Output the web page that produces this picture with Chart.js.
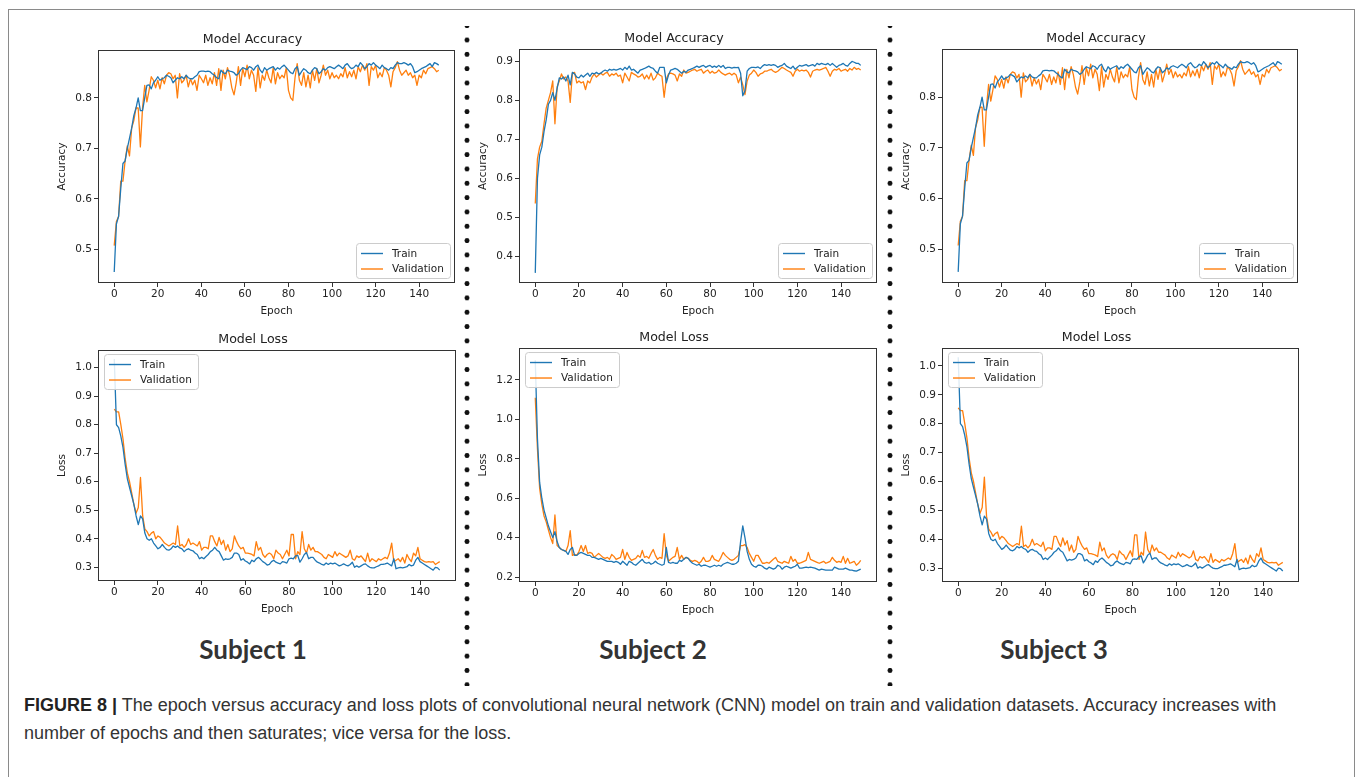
<!DOCTYPE html>
<html lang="en">
<head>
<meta charset="utf-8">
<title>FIGURE 8 - CNN accuracy and loss</title>
<script src="https://cdn.jsdelivr.net/npm/chart.js@4.4.1/dist/chart.umd.min.js"></script>
<style>
  html, body { margin: 0; padding: 0; background: #fff; }
  body { width: 1357px; height: 777px; position: relative; overflow: hidden; font-family: "Liberation Sans", Arial, sans-serif; }
  .frame { position: absolute; left: 8px; top: 9px; width: 1347px; height: 820px; border: 1px solid #8a8a8a; box-sizing: border-box; }
  .plot { position: absolute; }
  .sep { position: absolute; top: 26px; width: 8px; height: 660px;
         background-image: radial-gradient(circle, #111 2.2px, rgba(0,0,0,0) 2.8px);
         background-size: 8px 14.34px; background-position: 0 -7.5px; }
  .subject { position: absolute; top: 633px; line-height: 30px; font: 700 26px Lato, sans-serif; color: #333;
             transform: translateX(-50%); white-space: nowrap; }
  .caption { position: absolute; left: 24px; top: 691px; font-size: 18px; line-height: 28px; color: #333; white-space: nowrap; }
  .caption b { color: #222; }
</style>
</head>
<body>
<div class="frame"></div>

<div class="plot" id="wrap-s1-acc"><canvas id="s1-acc"></canvas></div>
<div class="plot" id="wrap-s1-loss"><canvas id="s1-loss"></canvas></div>
<div class="plot" id="wrap-s2-acc"><canvas id="s2-acc"></canvas></div>
<div class="plot" id="wrap-s2-loss"><canvas id="s2-loss"></canvas></div>
<div class="plot" id="wrap-s3-acc"><canvas id="s3-acc"></canvas></div>
<div class="plot" id="wrap-s3-loss"><canvas id="s3-loss"></canvas></div>

<div class="sep" style="left:463px"></div>
<div class="sep" style="left:886px"></div>

<div class="subject" style="left:253px">Subject 1</div>
<div class="subject" style="left:653px">Subject 2</div>
<div class="subject" style="left:1054px">Subject 3</div>

<div class="caption"><b>FIGURE 8 |</b> The epoch versus accuracy and loss plots of convolutional neural network (CNN) model on train and validation datasets. Accuracy increases with<br>number of epochs and then saturates; vice versa for the loss.</div>

<script>
// 数据：epoch 序号与刻度
const epochs = Array.from({ length: 150 }, (_, i) => i);
const xTicks = [0, 20, 40, 60, 80, 100, 120, 140];

const s1AccTicks = [0.5, 0.6, 0.7, 0.8];
const s1LossTicks = [0.3, 0.4, 0.5, 0.6, 0.7, 0.8, 0.9, 1.0];
const s2AccTicks = [0.4, 0.5, 0.6, 0.7, 0.8, 0.9];
const s2LossTicks = [0.2, 0.4, 0.6, 0.8, 1.0, 1.2];

// Subject 1 - accuracy
const s1AccTrain = [
  0.455, 0.55, 0.565, 0.62, 0.67, 0.675, 0.70, 0.72, 0.74, 0.765,
  0.78, 0.80, 0.775, 0.775, 0.80, 0.825, 0.826, 0.818, 0.83, 0.835,
  0.842, 0.835, 0.838, 0.84, 0.845, 0.843, 0.84, 0.83, 0.835, 0.84,
  0.838, 0.842, 0.838, 0.845, 0.84, 0.838, 0.838, 0.842, 0.845, 0.852,
  0.853, 0.853, 0.852, 0.853, 0.852, 0.848, 0.845, 0.84, 0.838, 0.855,
  0.85, 0.848, 0.855, 0.853, 0.852, 0.85, 0.845, 0.848, 0.855, 0.86,
  0.858, 0.856, 0.862, 0.86, 0.855, 0.862, 0.865, 0.855, 0.85, 0.86,
  0.855, 0.858, 0.86, 0.862, 0.855, 0.86, 0.857, 0.862, 0.865, 0.86,
  0.855, 0.85, 0.848, 0.858, 0.862, 0.845, 0.852, 0.858, 0.855, 0.85,
  0.848, 0.855, 0.86, 0.858, 0.848, 0.852, 0.858, 0.855, 0.86, 0.862,
  0.86, 0.858, 0.862, 0.865, 0.862, 0.858, 0.865, 0.868, 0.862, 0.858,
  0.86, 0.865, 0.862, 0.87, 0.865, 0.858, 0.862, 0.868, 0.865, 0.87,
  0.865, 0.862, 0.858, 0.865, 0.86, 0.858, 0.855, 0.86, 0.858, 0.865,
  0.87, 0.868, 0.868, 0.87, 0.868, 0.865, 0.868, 0.862, 0.85, 0.852,
  0.855, 0.858, 0.86, 0.862, 0.865, 0.868, 0.862, 0.87, 0.868, 0.865
];
const s1AccVal = [
  0.507, 0.555, 0.565, 0.635, 0.635, 0.675, 0.705, 0.685, 0.74, 0.755,
  0.78, 0.78, 0.703, 0.78, 0.825, 0.792, 0.815, 0.842, 0.835, 0.82,
  0.835, 0.818, 0.84, 0.828, 0.845, 0.85, 0.848, 0.838, 0.845, 0.80,
  0.848, 0.83, 0.835, 0.845, 0.822, 0.838, 0.826, 0.835, 0.815, 0.845,
  0.838, 0.83, 0.845, 0.825, 0.84, 0.828, 0.85, 0.825, 0.858, 0.815,
  0.855, 0.838, 0.86, 0.845, 0.82, 0.806, 0.83, 0.862, 0.825, 0.858,
  0.842, 0.865, 0.838, 0.855, 0.845, 0.813, 0.86, 0.82, 0.845, 0.835,
  0.855, 0.84, 0.83, 0.86, 0.828, 0.85, 0.838, 0.845, 0.84, 0.86,
  0.815, 0.80, 0.795, 0.84, 0.868, 0.835, 0.825, 0.85, 0.822, 0.845,
  0.82, 0.855, 0.835, 0.858, 0.83, 0.845, 0.865, 0.845, 0.855, 0.838,
  0.85, 0.84, 0.845, 0.838, 0.848, 0.842, 0.86, 0.84, 0.852, 0.842,
  0.855, 0.838, 0.862, 0.852, 0.865, 0.855, 0.868, 0.825, 0.862, 0.855,
  0.865, 0.84, 0.85, 0.842, 0.86, 0.855, 0.845, 0.822, 0.852, 0.86,
  0.872, 0.855, 0.845, 0.85, 0.855, 0.845, 0.85, 0.84, 0.845, 0.825,
  0.845, 0.84, 0.855, 0.848, 0.858, 0.86, 0.862, 0.858, 0.852, 0.855
];

// Subject 1 - loss
const s1LossTrain = [
  1.03, 0.80, 0.79, 0.76, 0.72, 0.66, 0.61, 0.58, 0.55, 0.52,
  0.48, 0.45, 0.48, 0.47, 0.42, 0.40, 0.395, 0.40, 0.385, 0.375,
  0.365, 0.37, 0.38, 0.37, 0.362, 0.36, 0.365, 0.375, 0.37, 0.375,
  0.368, 0.365, 0.355, 0.362, 0.365, 0.36, 0.358, 0.35, 0.345, 0.33,
  0.335, 0.33, 0.338, 0.345, 0.355, 0.36, 0.37, 0.36, 0.355, 0.34,
  0.325, 0.33, 0.328, 0.33, 0.335, 0.35, 0.35, 0.345, 0.325, 0.33,
  0.322, 0.318, 0.312, 0.325, 0.32, 0.33, 0.335, 0.328, 0.32, 0.315,
  0.308, 0.31, 0.32, 0.325, 0.318, 0.315, 0.312, 0.32, 0.318, 0.315,
  0.33, 0.332, 0.33, 0.34, 0.342, 0.318, 0.33, 0.345, 0.352, 0.33,
  0.335, 0.335, 0.325, 0.318, 0.315, 0.31, 0.308, 0.315, 0.31, 0.315,
  0.312, 0.315, 0.31, 0.305, 0.308, 0.312, 0.308, 0.305, 0.31, 0.318,
  0.30, 0.305, 0.30, 0.305, 0.31, 0.312, 0.305, 0.30, 0.298, 0.298,
  0.302, 0.305, 0.31, 0.31, 0.312, 0.315, 0.31, 0.305, 0.33, 0.295,
  0.298, 0.30, 0.298, 0.30, 0.302, 0.31, 0.305, 0.308, 0.325, 0.335,
  0.32, 0.315, 0.31, 0.305, 0.30, 0.295, 0.29, 0.30, 0.298, 0.29
];
const s1LossVal = [
  0.855, 0.845, 0.845, 0.80, 0.75, 0.68, 0.63, 0.60, 0.56, 0.52,
  0.49, 0.51, 0.615, 0.48, 0.435, 0.425, 0.41, 0.42, 0.425, 0.40,
  0.41, 0.405, 0.395, 0.385, 0.38, 0.375, 0.38, 0.385, 0.38, 0.445,
  0.375, 0.38, 0.37, 0.38, 0.40, 0.38, 0.385, 0.38, 0.375, 0.39,
  0.36, 0.37, 0.37, 0.365, 0.41, 0.41, 0.39, 0.375, 0.405, 0.38,
  0.395, 0.36, 0.38, 0.355, 0.365, 0.41, 0.39, 0.375, 0.365, 0.37,
  0.35, 0.35, 0.348, 0.345, 0.34, 0.39, 0.36, 0.37, 0.345, 0.335,
  0.345, 0.35, 0.345, 0.33, 0.36, 0.35, 0.345, 0.33, 0.345, 0.36,
  0.34, 0.415, 0.415, 0.33, 0.355, 0.345, 0.425, 0.365, 0.35, 0.38,
  0.36, 0.37, 0.355, 0.355, 0.35, 0.345, 0.335, 0.33, 0.345, 0.34,
  0.335, 0.355, 0.34, 0.35, 0.345, 0.34, 0.335, 0.34, 0.36, 0.33,
  0.325, 0.34, 0.335, 0.34, 0.33, 0.32, 0.35, 0.32, 0.33, 0.325,
  0.32, 0.33, 0.325, 0.33, 0.335, 0.33, 0.35, 0.385, 0.32, 0.325,
  0.33, 0.32, 0.335, 0.315, 0.345, 0.33, 0.32, 0.35, 0.34, 0.37,
  0.33, 0.325, 0.32, 0.318, 0.32, 0.318, 0.32, 0.31, 0.315, 0.32
];

// Subject 2 - accuracy
const s2AccTrain = [
  0.357, 0.60, 0.66, 0.68, 0.72, 0.75, 0.79, 0.80, 0.82, 0.80,
  0.83, 0.858, 0.855, 0.86, 0.85, 0.865, 0.84, 0.872, 0.868, 0.86,
  0.858, 0.865, 0.86, 0.865, 0.87, 0.862, 0.87, 0.868, 0.872, 0.868,
  0.87, 0.875, 0.878, 0.875, 0.88, 0.878, 0.88, 0.878, 0.88, 0.882,
  0.878, 0.885, 0.88, 0.888, 0.878, 0.88, 0.875, 0.87, 0.878, 0.88,
  0.882, 0.885, 0.888, 0.884, 0.882, 0.875, 0.87, 0.885, 0.885, 0.885,
  0.845, 0.865, 0.878, 0.88, 0.882, 0.88, 0.875, 0.87, 0.875, 0.872,
  0.878, 0.88, 0.882, 0.885, 0.888, 0.885, 0.888, 0.89, 0.885, 0.888,
  0.89, 0.885, 0.888, 0.885, 0.89, 0.885, 0.89, 0.882, 0.885, 0.885,
  0.883, 0.885, 0.884, 0.885, 0.87, 0.812, 0.825, 0.875, 0.882, 0.885,
  0.885, 0.884, 0.886, 0.882, 0.888, 0.892, 0.89, 0.892, 0.89, 0.892,
  0.89, 0.885, 0.888, 0.89, 0.895, 0.888, 0.885, 0.882, 0.888, 0.88,
  0.885, 0.89, 0.888, 0.89, 0.892, 0.888, 0.89, 0.892, 0.888, 0.895,
  0.892, 0.895, 0.893, 0.892, 0.895, 0.89, 0.895, 0.89, 0.885, 0.89,
  0.892, 0.895, 0.89, 0.888, 0.895, 0.90, 0.898, 0.895, 0.895, 0.89
];
const s2AccVal = [
  0.535, 0.65, 0.68, 0.695, 0.74, 0.78, 0.80, 0.82, 0.85, 0.74,
  0.835, 0.85, 0.868, 0.855, 0.86, 0.85, 0.795, 0.87, 0.872, 0.845,
  0.85, 0.845, 0.848, 0.828, 0.85, 0.845, 0.86, 0.868, 0.86, 0.865,
  0.87, 0.865, 0.87, 0.872, 0.862, 0.868, 0.865, 0.87, 0.862, 0.865,
  0.845, 0.87, 0.86, 0.85, 0.872, 0.868, 0.865, 0.86, 0.862, 0.868,
  0.855, 0.865, 0.855, 0.87, 0.852, 0.858, 0.87, 0.865, 0.862, 0.808,
  0.855, 0.868, 0.87, 0.868, 0.865, 0.85, 0.868, 0.862, 0.878, 0.87,
  0.872, 0.875, 0.878, 0.88, 0.875, 0.878, 0.88, 0.87, 0.875, 0.878,
  0.87, 0.875, 0.87, 0.872, 0.878, 0.872, 0.868, 0.865, 0.868, 0.87,
  0.865, 0.87, 0.865, 0.845, 0.86, 0.84, 0.815, 0.85, 0.865, 0.87,
  0.878, 0.872, 0.862, 0.868, 0.87, 0.875, 0.875, 0.878, 0.88, 0.875,
  0.872, 0.875, 0.88, 0.885, 0.882, 0.878, 0.875, 0.872, 0.862, 0.875,
  0.88, 0.875, 0.878, 0.876, 0.878, 0.872, 0.86, 0.875, 0.878, 0.88,
  0.878, 0.88, 0.882, 0.885, 0.875, 0.862, 0.875, 0.88, 0.878, 0.882,
  0.875, 0.878, 0.88, 0.875, 0.882, 0.878, 0.885, 0.88, 0.882, 0.878
];

// Subject 2 - loss
const s2LossTrain = [
  1.30, 0.90, 0.68, 0.60, 0.54, 0.50, 0.46, 0.43, 0.40, 0.43,
  0.38, 0.35, 0.34, 0.335, 0.33, 0.315, 0.34, 0.35, 0.31, 0.31,
  0.32, 0.325, 0.32, 0.315, 0.31, 0.31, 0.30, 0.30, 0.295, 0.29,
  0.295, 0.29, 0.285, 0.28, 0.28, 0.28, 0.275, 0.28, 0.275, 0.265,
  0.28, 0.27, 0.26, 0.28, 0.275, 0.265, 0.26, 0.27, 0.28, 0.29,
  0.275, 0.27, 0.275, 0.265, 0.27, 0.28, 0.27, 0.265, 0.26, 0.265,
  0.35, 0.275, 0.27, 0.275, 0.27, 0.27, 0.285, 0.28, 0.29, 0.30,
  0.295, 0.28, 0.27, 0.265, 0.26, 0.265, 0.255, 0.26, 0.26, 0.255,
  0.25, 0.255, 0.26, 0.255, 0.26, 0.255, 0.265, 0.27, 0.275, 0.27,
  0.265, 0.265, 0.27, 0.28, 0.38, 0.46, 0.40, 0.33, 0.29, 0.265,
  0.255, 0.25, 0.26, 0.26, 0.255, 0.245, 0.24, 0.25, 0.245, 0.24,
  0.245, 0.26, 0.255, 0.24, 0.25, 0.255, 0.25, 0.245, 0.25, 0.255,
  0.265, 0.245, 0.245, 0.248, 0.25, 0.248, 0.25, 0.248, 0.245, 0.24,
  0.235, 0.24, 0.238, 0.235, 0.235, 0.235, 0.235, 0.25, 0.245, 0.24,
  0.24, 0.24, 0.245, 0.24, 0.235, 0.235, 0.232, 0.23, 0.235, 0.24
];
const s2LossVal = [
  1.11, 0.85, 0.65, 0.57, 0.51, 0.48, 0.44, 0.40, 0.37, 0.515,
  0.36, 0.35, 0.34, 0.335, 0.33, 0.36, 0.435, 0.31, 0.315, 0.31,
  0.33, 0.36, 0.33, 0.36, 0.32, 0.325, 0.32, 0.30, 0.31, 0.32,
  0.31, 0.30, 0.295, 0.30, 0.29, 0.315, 0.305, 0.29, 0.295, 0.30,
  0.34, 0.29, 0.325, 0.30, 0.285, 0.29, 0.295, 0.31, 0.30, 0.335,
  0.30, 0.305, 0.295, 0.32, 0.34, 0.31, 0.29, 0.30, 0.295, 0.42,
  0.31, 0.28, 0.29, 0.30, 0.305, 0.35, 0.29, 0.31, 0.29, 0.30,
  0.295, 0.285, 0.28, 0.285, 0.28, 0.27, 0.28, 0.30, 0.28, 0.28,
  0.285, 0.31, 0.29, 0.285, 0.28, 0.30, 0.325, 0.31, 0.30, 0.29,
  0.285, 0.29, 0.30, 0.31, 0.36, 0.36, 0.365, 0.35, 0.32, 0.30,
  0.28, 0.31, 0.31, 0.29, 0.27, 0.27, 0.275, 0.27, 0.28, 0.29,
  0.30, 0.28, 0.275, 0.27, 0.28, 0.275, 0.27, 0.305, 0.28, 0.29,
  0.27, 0.27, 0.275, 0.28, 0.285, 0.325, 0.29, 0.285, 0.28, 0.275,
  0.27, 0.275, 0.28, 0.27, 0.275, 0.28, 0.30, 0.285, 0.275, 0.28,
  0.275, 0.305, 0.27, 0.295, 0.27, 0.275, 0.28, 0.26, 0.27, 0.285
];

// Subject 3 的曲线与 Subject 1 完全相同
const s3AccTrain = s1AccTrain;
const s3AccVal = s1AccVal;
const s3LossTrain = s1LossTrain;
const s3LossVal = s1LossVal;

// 全局变量
const TRAIN_COLOR = '#1f77b4';
const VAL_COLOR = '#ff7f0e';
const AXIS_COLOR = '#333333';
const TEXT_COLOR = '#222222';
const TICK_FONT = 10.5;
let figureCharts = {};

// 每个子图的绘图区位置（像素）
const panels = [
  { id: 's1-acc',  left: 98,  top: 50,  width: 357, height: 233, title: 'Model Accuracy', yTitle: 'Accuracy', train: s1AccTrain,  val: s1AccVal,  yMin: 0.433, yMax: 0.895, yTicks: s1AccTicks,  legend: 'br' },
  { id: 's1-loss', left: 98,  top: 350, width: 358, height: 231, title: 'Model Loss',     yTitle: 'Loss',     train: s1LossTrain, val: s1LossVal, yMin: 0.252, yMax: 1.062, yTicks: s1LossTicks, legend: 'tl' },
  { id: 's2-acc',  left: 519, top: 49,  width: 358, height: 234, title: 'Model Accuracy', yTitle: 'Accuracy', train: s2AccTrain,  val: s2AccVal,  yMin: 0.331, yMax: 0.932, yTicks: s2AccTicks,  legend: 'br' },
  { id: 's2-loss', left: 519, top: 348, width: 358, height: 234, title: 'Model Loss',     yTitle: 'Loss',     train: s2LossTrain, val: s2LossVal, yMin: 0.175, yMax: 1.362, yTicks: s2LossTicks, legend: 'tl' },
  { id: 's3-acc',  left: 942, top: 49,  width: 356, height: 234, title: 'Model Accuracy', yTitle: 'Accuracy', train: s3AccTrain,  val: s3AccVal,  yMin: 0.433, yMax: 0.895, yTicks: s1AccTicks,  legend: 'br' },
  { id: 's3-loss', left: 942, top: 348, width: 357, height: 234, title: 'Model Loss',     yTitle: 'Loss',     train: s3LossTrain, val: s3LossVal, yMin: 0.252, yMax: 1.062, yTicks: s1LossTicks, legend: 'tl' }
];

// 坐标轴四边框（matplotlib 风格）
const axesFrame = {
  id: 'axesFrame',
  afterDraw(chart) {
    const { ctx, chartArea: a } = chart;
    ctx.save();
    ctx.strokeStyle = AXIS_COLOR;
    ctx.lineWidth = 1;
    ctx.strokeRect(Math.round(a.left) + 0.5, Math.round(a.top) + 0.5,
                   Math.round(a.right - a.left) - 1, Math.round(a.bottom - a.top) - 1);
    ctx.restore();
  }
};

// 绘图区内部的图例框
const boxLegend = {
  id: 'boxLegend',
  afterDraw(chart, args, opts) {
    const { ctx, chartArea: a } = chart;
    const w = 94, h = 35;
    const x = opts.corner === 'br' ? a.right - 5 - w : a.left + 6;
    const y = opts.corner === 'br' ? a.bottom - 5 - h : a.top + 4;
    ctx.save();
    ctx.beginPath();
    if (ctx.roundRect) {
      ctx.roundRect(x + 0.5, y + 0.5, w, h, 3);
    } else {
      ctx.rect(x + 0.5, y + 0.5, w, h);
    }
    ctx.fillStyle = 'rgba(255,255,255,0.85)';
    ctx.fill();
    ctx.strokeStyle = '#cccccc';
    ctx.lineWidth = 1;
    ctx.stroke();

    ctx.font = TICK_FONT + 'px "DejaVu Sans"';
    ctx.textBaseline = 'middle';
    chart.data.datasets.forEach((ds, i) => {
      const ly = y + 10.5 + i * 15.5;
      ctx.beginPath();
      ctx.moveTo(x + 5, ly);
      ctx.lineTo(x + 27, ly);
      ctx.strokeStyle = ds.borderColor;
      ctx.lineWidth = 1.4;
      ctx.stroke();
      ctx.fillStyle = TEXT_COLOR;
      ctx.fillText(ds.label, x + 36, ly + 0.5);
    });
    ctx.restore();
  }
};

// DOM加载完成后初始化
document.addEventListener('DOMContentLoaded', function() {
    Chart.defaults.font.family = '"DejaVu Sans", sans-serif';
    Chart.defaults.color = TEXT_COLOR;
    panels.forEach(p => {
        figureCharts[p.id] = buildPanel(p);
    });
});

function buildPanel(p) {
    const yAxisW = 48, xAxisH = 38, titleH = 22, rightPad = 10;
    const wrap = document.getElementById('wrap-' + p.id);
    const canvas = document.getElementById(p.id);
    wrap.style.left = (p.left - yAxisW) + 'px';
    wrap.style.top = (p.top - titleH) + 'px';
    canvas.width = yAxisW + p.width + rightPad;
    canvas.height = titleH + p.height + xAxisH;

    const gridOpts = {
        display: true,
        drawOnChartArea: false,
        drawTicks: true,
        tickLength: 4,
        tickColor: AXIS_COLOR,
        tickWidth: 1
    };

    return new Chart(canvas, {
        type: 'line',
        data: {
            labels: epochs,
            datasets: [{
                label: 'Train',
                data: p.train,
                borderColor: TRAIN_COLOR,
                borderWidth: 1.3,
                borderJoinStyle: 'round',
                pointRadius: 0,
                tension: 0,
                fill: false
            }, {
                label: 'Validation',
                data: p.val,
                borderColor: VAL_COLOR,
                borderWidth: 1.3,
                borderJoinStyle: 'round',
                pointRadius: 0,
                tension: 0,
                fill: false
            }]
        },
        options: {
            responsive: false,
            animation: false,
            devicePixelRatio: 1,
            events: [],
            layout: { padding: { left: 0, right: rightPad, top: 0, bottom: 0 } },
            plugins: {
                legend: { display: false },
                tooltip: { enabled: false },
                title: {
                    display: true,
                    text: p.title,
                    color: TEXT_COLOR,
                    font: { size: 12.6, weight: 'normal' },
                    padding: { top: 4.4, bottom: 2.5 }
                },
                boxLegend: { corner: p.legend }
            },
            scales: {
                x: {
                    type: 'linear',
                    min: -7.45,
                    max: 156.45,
                    afterBuildTicks: s => { s.ticks = xTicks.map(v => ({ value: v })); },
                    afterFit: s => { s.height = xAxisH; },
                    ticks: {
                        color: TEXT_COLOR,
                        font: { size: TICK_FONT },
                        padding: 1,
                        maxRotation: 0,
                        autoSkip: false,
                        callback: v => String(v)
                    },
                    grid: gridOpts,
                    border: { display: false },
                    title: {
                        display: true,
                        text: 'Epoch',
                        color: TEXT_COLOR,
                        font: { size: TICK_FONT },
                        padding: { top: 0, bottom: 3.5 }
                    }
                },
                y: {
                    type: 'linear',
                    min: p.yMin,
                    max: p.yMax,
                    afterBuildTicks: s => { s.ticks = p.yTicks.map(v => ({ value: v })); },
                    afterFit: s => { s.width = yAxisW; },
                    ticks: {
                        color: TEXT_COLOR,
                        font: { size: TICK_FONT },
                        padding: 2,
                        autoSkip: false,
                        callback: v => Number(v).toFixed(1)
                    },
                    grid: gridOpts,
                    border: { display: false },
                    title: {
                        display: true,
                        text: p.yTitle,
                        color: TEXT_COLOR,
                        font: { size: TICK_FONT },
                        padding: { top: 5.7, bottom: 0 }
                    }
                }
            }
        },
        plugins: [axesFrame, boxLegend]
    });
}
</script>
</body>
</html>
